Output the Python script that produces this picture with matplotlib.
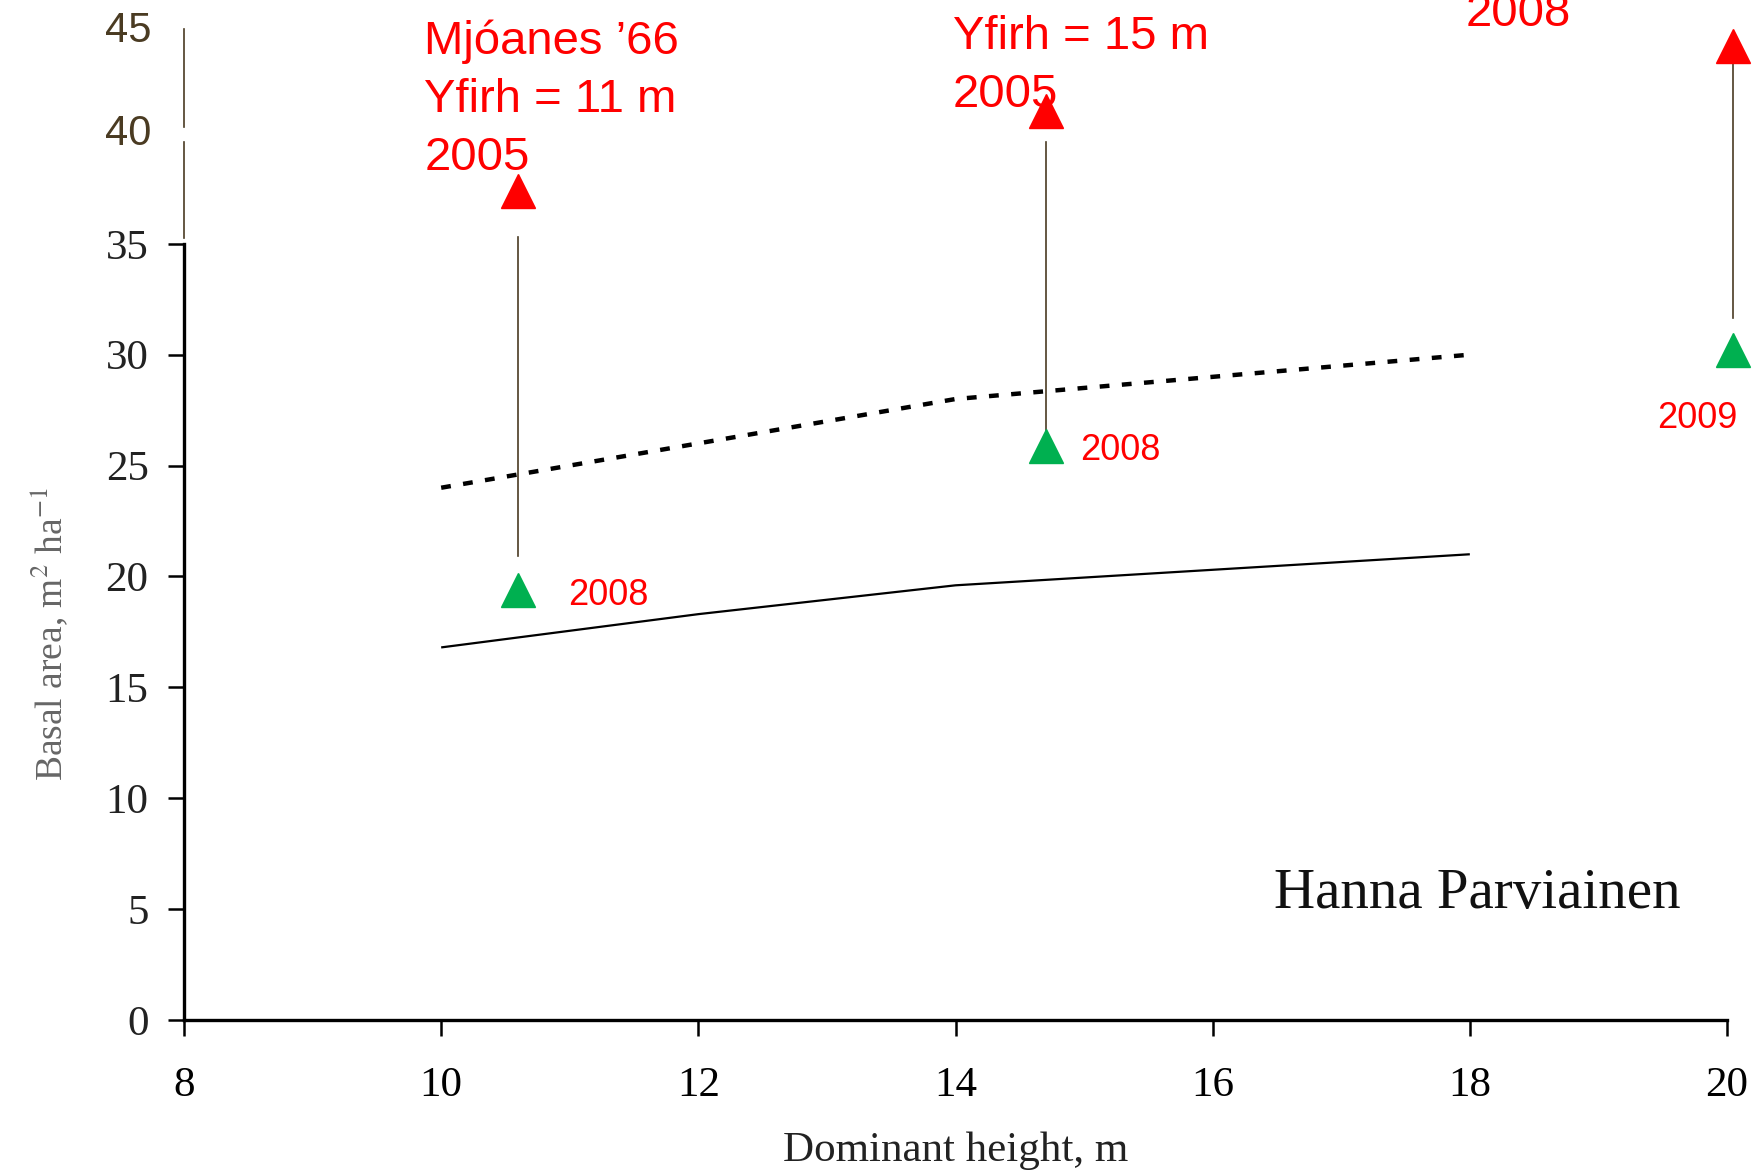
import matplotlib
matplotlib.use("Agg")
import matplotlib.pyplot as plt

plt.rcParams['mathtext.fontset'] = 'stix'

# curves from the original figure
height = [10, 12, 14, 16, 18]
ba_lower = [16.8, 18.3, 19.6, 20.3, 21.0]
ba_upper = [24.0, 26.0, 28.0, 29.0, 30.0]

# measured stands
site_x = [10.6, 14.7, 20.05]
ba_2005 = [37.4, 41.0, 43.9]
ba_later = [19.4, 25.9, 30.2]
line_bottom = [20.9, 26.6, 31.65]
line_top = [35.3, 39.6, 43.2]
later_years = ['2008', '2008', '2009']
site_labels = ['Mjóanes ’66\nYfirh = 11 m\n2005', 'Yfirh = 15 m\n2005', '2008']

xticks = [8, 10, 12, 14, 16, 18, 20]
yticks = [0, 5, 10, 15, 20, 25, 30, 35]
extra_yticks = [40, 45]

red = '#ff0000'
green = '#00b050'
brown = '#4a3b22'
serif = 'Liberation Serif'
sans = 'Liberation Sans'

fig = plt.figure(figsize=(17.62, 11.71), dpi=100)
ax = fig.add_axes([184/1762, 151/1171, 1543/1762, 998/1171])
ax.set_xlim(8, 20)
ax.set_ylim(0, 45)

for s in ['top', 'right']:
    ax.spines[s].set_visible(False)
ax.spines['left'].set_bounds(0, 35)
ax.spines['left'].set_linewidth(2.4)
ax.spines['bottom'].set_linewidth(2.4)

ax.set_xticks(xticks)
ax.set_yticks(yticks)
ax.set_xticklabels([str(v) for v in xticks], fontfamily=serif, fontsize=31)
ax.set_yticklabels([str(v) for v in yticks], fontfamily=serif, fontsize=31, color='#222222')
ax.tick_params(axis='x', length=11.5, width=1.8, pad=22)
ax.tick_params(axis='y', length=11.5, width=1.8, pad=14)

# upper part of the y axis, added later in another style
ax.plot([8, 8], [35.26, 39.6], color=brown, lw=1.2, clip_on=False)
ax.plot([8, 8], [40.26, 44.7], color=brown, lw=1.2, clip_on=False)
for v, yb in zip(extra_yticks, [39.45, 44.1]):
    ax.text(7.75, yb, str(v), ha='right', va='baseline', fontfamily=sans,
            fontsize=30, color=brown)

ax.plot(height, ba_lower, color='black', lw=1.6, solid_capstyle='butt')
ax.plot(height, ba_upper, color='black', lw=3.2, linestyle=(0, (2.2, 2.8)))

for i in range(3):
    ax.plot([site_x[i], site_x[i]], [line_bottom[i], line_top[i]], color=brown,
            lw=1.2, clip_on=False)
ax.plot(site_x, ba_2005, linestyle='none', marker='^', ms=24, color=red, clip_on=False)
ax.plot(site_x, ba_later, linestyle='none', marker='^', ms=24, color=green, clip_on=False)

# red site labels (baseline of last line)
label_pos = [(9.87, 38.32), (13.98, 41.16), (17.97, 44.8)]
for txt, (lx, ly) in zip(site_labels, label_pos):
    ax.text(lx, ly, txt, ha='left', va='baseline', fontfamily=sans, fontsize=34,
            color=red, linespacing=1.42, clip_on=False)

year_pos = [(10.99, 18.71, 'left'), (14.97, 25.25, 'left'), (20.08, 26.7, 'right')]
for yr, (lx, ly, ha) in zip(later_years, year_pos):
    ax.text(lx, ly, yr, ha=ha, va='baseline', fontfamily=sans, fontsize=26, color=red)

ax.text(16.48, 5.05, 'Hanna Parviainen', ha='left', va='baseline', fontfamily=serif,
        fontsize=41, color='#111111')

ax.set_xlabel('Dominant height, m', fontfamily=serif, fontsize=31, color='#222222')
ax.xaxis.set_label_coords(0.5, -0.112)
ax.set_ylabel('Basal area, m$^{2}$ ha$^{-1}$', fontfamily=serif, fontsize=27, color='#666666')
ax.yaxis.set_label_coords(-0.073, 0.387)

fig.savefig('out.png', dpi=100)
